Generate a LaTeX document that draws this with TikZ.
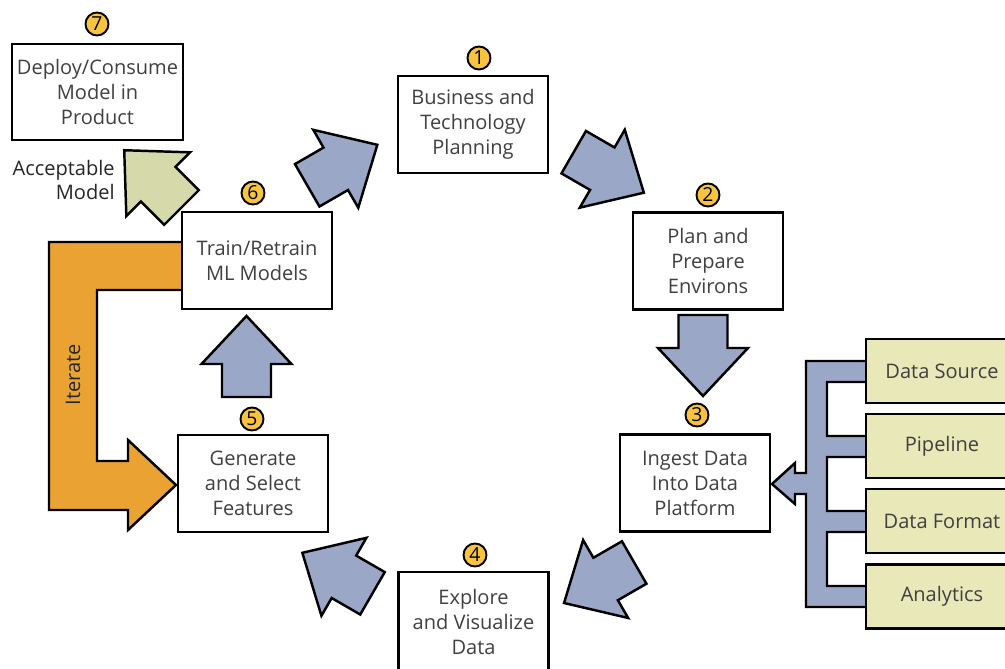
\documentclass[tikz,border=0pt]{standalone}
\usepackage{fontspec}
\setmainfont{Open Sans}
\definecolor{stepblue}{RGB}{155,167,199}
\definecolor{sourceyellow}{RGB}{232,232,184}
\definecolor{modelgreen}{RGB}{214,217,170}
\definecolor{iterorange}{RGB}{234,162,50}
\definecolor{numyellow}{RGB}{248,196,64}
\definecolor{textgray}{RGB}{64,64,64}
\tikzset{
  stage/.style={draw, fill=white, line width=1.4pt, minimum width=3cm, minimum height=1.94cm, align=center, text=textgray, font=\fontsize{11.4}{14.2}\selectfont, inner sep=2pt},
  source/.style={stage, fill=sourceyellow, minimum width=3.04cm, minimum height=1.28cm},
  num/.style={circle, draw, fill=numyellow, line width=1.1pt, minimum size=0.46cm, inner sep=0pt, font=\fontsize{11}{11}\selectfont},
  blockarrow/.style={draw, fill=stepblue, line width=1.4pt, line join=miter},
  note/.style={text=textgray, font=\fontsize{11.4}{14.2}\selectfont, inner sep=0pt}
}
\newcommand{\flowarrow}[3][]{%
  \begin{scope}[shift={#2},rotate=#3]
    \draw[blockarrow,#1] (0,-24.5) -- (33,-24.5) -- (33,-45) -- (81,0) -- (33,45) -- (33,24.5) -- (0,24.5) -- cycle;
  \end{scope}}

\begin{document}
\begin{tikzpicture}[x=0.02cm,y=-0.02cm]
\useasboundingbox (0,0) rectangle (1005,669);

\draw[blockarrow] (870,361) -- (806,361) -- (806,473) -- (795,473) -- (795,463) -- (772,484) -- (795,504) -- (795,494) -- (806,494) -- (806,607) -- (870,607) -- (870,586) -- (827,586) -- (827,532) -- (870,532) -- (870,511) -- (827,511) -- (827,457) -- (870,457) -- (870,436) -- (827,436) -- (827,382) -- (870,382) -- cycle;
\draw[blockarrow, fill=iterorange] (190,242) -- (49,242) -- (49,510) -- (128,510) -- (128,530) -- (176,485) -- (128,440) -- (128,461) -- (97,461) -- (97,290) -- (190,290) -- cycle;
\node[note, text=black!85, rotate=90] (iter) at (73,375) {Iterate};

\flowarrow{(307.2,185.3)}{30}
\flowarrow{(573.7,152.2)}{-30}
\flowarrow{(703,315)}{-90}
\flowarrow{(634.2,562.5)}{210}
\flowarrow{(372.5,593.3)}{150}
\flowarrow{(246.5,397)}{90}
\flowarrow[fill=modelgreen]{(181.5,207.5)}{135}

\node[stage, minimum width=3.42cm, minimum height=1.92cm] (deploy) at (97.5,92) {Deploy/Consume\\Model in\\Product};
\node[stage] (business) at (473,124.5) {Business and\\Technology\\Planning};
\node[stage] (plan) at (708,261) {Plan and\\Prepare\\Environs};
\node[stage] (ingest) at (695,483) {Ingest Data\\Into Data\\Platform};
\node[stage, minimum height=2cm] (explore) at (473.5,622) {Explore\\and Visualize\\Data};
\node[stage] (generate) at (253,483.5) {Generate\\and Select\\Features};
\node[stage] (train) at (257,260.5) {Train/Retrain\\ML Models};

\node[source] (datasource) at (942,371) {Data Source};
\node[source] (pipeline) at (942,446) {Pipeline};
\node[source] (dataformat) at (942,521) {Data Format};
\node[source] (analytics) at (942,596.5) {Analytics};

\node[note, text=black!85, align=right, anchor=east] (acceptable) at (115,180) {Acceptable\\Model};

\node[num] (n7) at (97,24) {7};
\node[num] (n1) at (479,58) {1};
\node[num] (n2) at (708,195) {2};
\node[num] (n3) at (697,415) {3};
\node[num] (n4) at (475,555) {4};
\node[num] (n5) at (252,419) {5};
\node[num] (n6) at (253,193) {6};
\end{tikzpicture}
\end{document}
